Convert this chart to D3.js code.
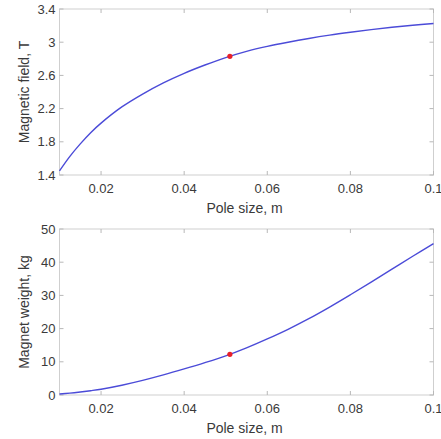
<!DOCTYPE html>
<html>
<head>
<meta charset="utf-8">
<script src="https://cdn.jsdelivr.net/npm/d3@7"></script>
<style>
	body { margin: 0; background: #fff; }
	svg text { font-family: 'Liberation Sans', Arial, sans-serif; fill: #3a3a3a; }
</style>
</head>
<body>
<svg id="main-vis" width="441" height="439"></svg>
<script>
// POLE SIZE (m)
const pole = [0.01, 0.0125, 0.015, 0.0175, 0.02, 0.025, 0.03, 0.035, 0.04, 0.045, 0.05, 0.055, 0.06, 0.065, 0.07, 0.075, 0.08, 0.085, 0.09, 0.095, 0.1]
// MAGNETIC FIELD (T)
const field = [1.45, 1.625, 1.775, 1.91, 2.025, 2.22, 2.375, 2.51, 2.625, 2.725, 2.815, 2.89, 2.95, 3.0, 3.045, 3.085, 3.12, 3.152, 3.18, 3.204, 3.225]
// MAGNET WEIGHT (kg)
const weight = [0.3, 0.55, 0.9, 1.3, 1.75, 2.95, 4.4, 6.05, 7.85, 9.75, 11.8, 14.2, 16.9, 19.8, 23.0, 26.5, 30.2, 34.0, 37.9, 41.8, 45.6]
// SELECTED DESIGN POINT
const selected = { pole: 0.051, field: 2.83, weight: 12.25 }

const xTicks = [0.02, 0.04, 0.06, 0.08, 0.1]
const panels = [
	{ values: field, dot: selected.field, domain: [1.4, 3.4], ticks: [1.4, 1.8, 2.2, 2.6, 3, 3.4], label: 'Magnetic field, T', top: 9 },
	{ values: weight, dot: selected.weight, domain: [0, 50], ticks: [0, 10, 20, 30, 40, 50], label: 'Magnet weight, kg', top: 229 }
]

const svg = d3.select('svg#main-vis')
const left = 59.5
const right = 433.5
const ph = 166
const x = d3.scaleLinear().domain([0.01, 0.1]).range([left, right])
const fmt = d3.format('~g')

panels.forEach(p => {
	const y = d3.scaleLinear().domain(p.domain).range([p.top + ph, p.top])
	const g = svg.append('g')

	// BOX
	g.append('rect')
		.attr('x', left).attr('y', p.top)
		.attr('width', right - left).attr('height', ph)
		.attr('fill', 'none').attr('stroke', '#cfcfcf').attr('stroke-width', 1)

	// TICKS (INWARD, ALL FOUR SIDES)
	const tl = 4
	xTicks.forEach(t => {
		g.append('line').attr('x1', x(t)).attr('x2', x(t)).attr('y1', p.top + ph).attr('y2', p.top + ph - tl)
			.attr('stroke', '#b8b8b8')
		g.append('line').attr('x1', x(t)).attr('x2', x(t)).attr('y1', p.top).attr('y2', p.top + tl)
			.attr('stroke', '#b8b8b8')
		g.append('text').attr('x', x(t)).attr('y', p.top + ph + 18)
			.attr('text-anchor', 'middle').attr('font-size', 13)
			.text(fmt(t))
	})
	p.ticks.forEach(t => {
		g.append('line').attr('x1', left).attr('x2', left + tl).attr('y1', y(t)).attr('y2', y(t))
			.attr('stroke', '#b8b8b8')
		g.append('line').attr('x1', right).attr('x2', right - tl).attr('y1', y(t)).attr('y2', y(t))
			.attr('stroke', '#b8b8b8')
		g.append('text').attr('x', left - 4).attr('y', y(t) + 4.5)
			.attr('text-anchor', 'end').attr('font-size', 13)
			.text(fmt(t))
	})

	// LABELS
	g.append('text').attr('x', (left + right) / 2 - 2).attr('y', p.top + ph + 38)
		.attr('text-anchor', 'middle').attr('font-size', 14)
		.text('Pole size, m')
	g.append('text')
		.attr('transform', `translate(29,${p.top + ph / 2}) rotate(-90)`)
		.attr('text-anchor', 'middle').attr('font-size', 14)
		.text(p.label)

	// CURVE
	const line = d3.line().x((d, i) => x(pole[i])).y(d => y(d)).curve(d3.curveCatmullRom.alpha(0.5))
	g.append('path').datum(p.values)
		.attr('d', line)
		.attr('fill', 'none').attr('stroke', '#4b4bd8').attr('stroke-width', 1.4)

	g.append('circle')
		.attr('cx', x(selected.pole)).attr('cy', y(p.dot)).attr('r', 2.6)
		.attr('fill', '#e8202a')
})
</script>
</body>
</html>
